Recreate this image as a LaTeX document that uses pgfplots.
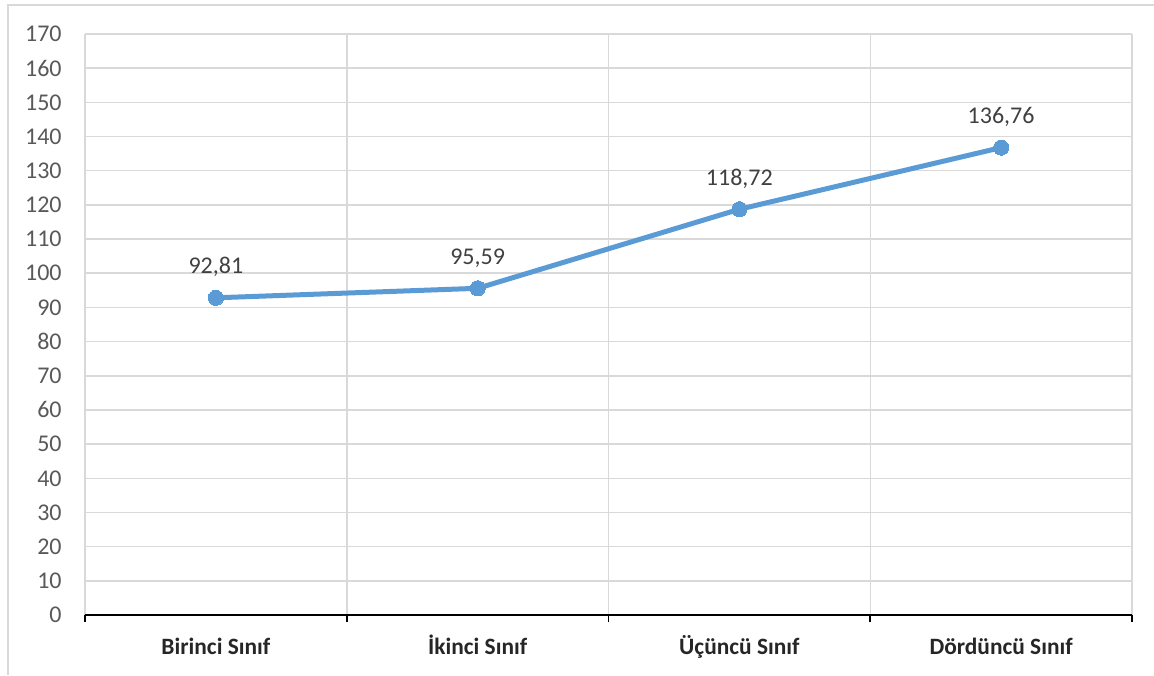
\documentclass[border=0pt]{standalone}
\usepackage{pgfplots}
\pgfplotsset{compat=1.18}
\usepackage{fontspec}
\setmainfont{Carlito}
\definecolor{lineblue}{HTML}{5B9BD5}
\definecolor{gridgray}{HTML}{D9D9D9}
\definecolor{ticktext}{HTML}{595959}
\definecolor{labtext}{HTML}{404040}
\definecolor{cattext}{HTML}{262626}
\begin{document}
\begin{tikzpicture}
\path[use as bounding box] (0,0) rectangle (577pt,337.5pt);
\draw[gridgray, line width=0.6pt] (4pt,0) -- (4pt,335pt) -- (577pt,335pt);
\begin{axis}[
 at={(42.5pt,30pt)}, anchor=south west,
 scale only axis, width=523.5pt, height=290.5pt,
 xmin=0.5, xmax=4.5, ymin=0, ymax=170,
 /pgf/number format/assume math mode=true,
 axis line style={draw=none},
 xtick={1,2,3,4},
 xticklabels={Birinci Sınıf, İkinci Sınıf, Üçüncü Sınıf, Dördüncü Sınıf},
 xtick style={draw=none},
 xticklabel style={font=\fontsize{11.7}{13}\selectfont\bfseries, text=cattext, anchor=base, inner sep=0pt, yshift=-19.5pt},
 extra x ticks={0.5,1.5,2.5,3.5,4.5},
 extra x tick labels={},
 extra x tick style={xmajorgrids=true, xtick style={draw=black, line width=0.9pt}, tick align=outside, major tick length=3.5pt},
 xtick pos=left,
 ytick={0,10,...,170},
 ymajorgrids,
 major grid style={gridgray, line width=0.75pt},
 ytick style={draw=none},
 yticklabel style={font=\fontsize{12}{13}\selectfont, text=ticktext, anchor=east, inner sep=0pt, xshift=-11.5pt},
 clip=false,
]
\draw[black, line width=0.9pt] (axis cs:0.5,0) -- (axis cs:4.5,0);
\addplot[lineblue, line width=2.5pt, line join=round, mark=*, mark size=3.8pt,
  mark options={fill=lineblue, draw=lineblue, line width=0pt},
  nodes near coords, point meta=explicit symbolic,
  every node near coord/.append style={anchor=south, inner sep=0pt, yshift=10.5pt,
    font=\fontsize{12}{13}\selectfont, text=labtext}]
  table[meta=lab] {
x y lab
1 92.81 92,81
2 95.59 95,59
3 118.72 118,72
4 136.76 136,76
};
\end{axis}
\end{tikzpicture}
\end{document}
